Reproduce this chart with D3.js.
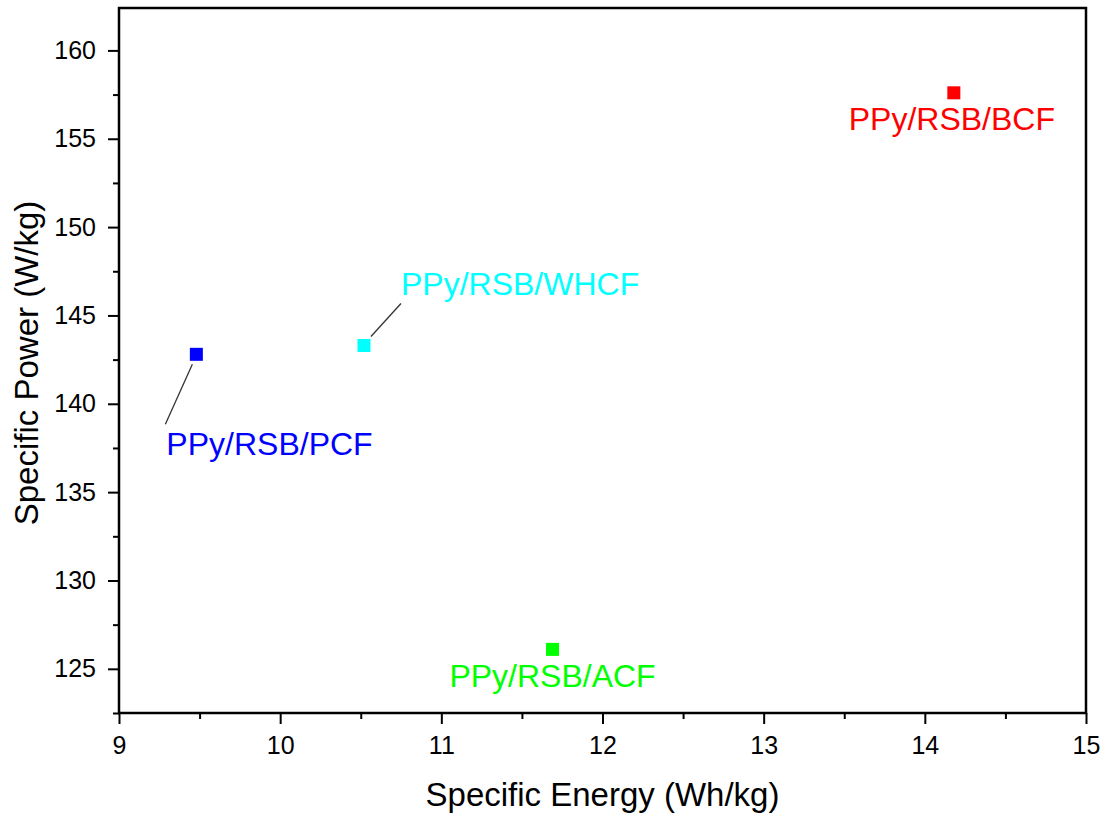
<!DOCTYPE html>
<html>
<head>
<meta charset="utf-8">
<script src="https://cdn.jsdelivr.net/npm/d3@7"></script>
<style>
  body { margin: 0; background: #fff; }
  text { font-family: "Liberation Sans", Arial, sans-serif; }
</style>
</head>
<body>
<div id="chart"></div>
<script>
// data
var names = ["PPy/RSB/PCF", "PPy/RSB/WHCF", "PPy/RSB/ACF", "PPy/RSB/BCF"]
var energy = [9.48, 10.52, 11.69, 14.18]
var power = [142.8, 143.3, 126.1, 157.6]
var colors = ["#0000ff", "#00ffff", "#00ff00", "#ff0000"]
var xTicks = [9, 10, 11, 12, 13, 14, 15]
var yTicks = [125, 130, 135, 140, 145, 150, 155, 160]

// label placement relative to the point (pixels)
var labelPos = [
  {dx: -30, dy: 101, anchor: "start", lead: [-4, 10, -31, 70]},
  {dx: 37, dy: -50, anchor: "start", lead: [7, -9, 37, -42]},
  {dx: 0, dy: 38, anchor: "middle", lead: null},
  {dx: -2, dy: 37, anchor: "middle", lead: null}
]

var W = 1104, H = 813
var margin = {top: 8, right: 18, bottom: 100, left: 119},
    width = W - margin.left - margin.right,
    height = H - margin.top - margin.bottom;

var svg = d3.select("#chart").append("svg")
    .attr("width", W)
    .attr("height", H)
  .append("g")
    .attr("transform", "translate(" + margin.left + "," + margin.top + ")");

var x = d3.scaleLinear().domain([9, 15]).range([0, width]);
var y = d3.scaleLinear().domain([122.5, 162.4]).range([height, 0]);

// minor ticks
var xMinor = d3.range(9.5, 15, 1)
var yMinor = d3.range(122.5, 162.4, 5)

svg.append("g")
  .attr("transform", "translate(0," + height + ")")
  .call(d3.axisBottom(x).tickValues(xMinor).tickSize(6).tickFormat(""))
svg.append("g")
  .call(d3.axisLeft(y).tickValues(yMinor).tickSize(6).tickFormat(""))

var xAxis = svg.append("g")
  .attr("transform", "translate(0," + height + ")")
  .call(d3.axisBottom(x).tickValues(xTicks).tickSize(11).tickPadding(12).tickFormat(d3.format("d")))
var yAxis = svg.append("g")
  .call(d3.axisLeft(y).tickValues(yTicks).tickSize(11).tickPadding(12).tickFormat(d3.format("d")))

svg.selectAll(".domain").remove()
svg.selectAll(".tick line").attr("stroke", "#000").attr("stroke-width", 2)
svg.selectAll(".tick text").attr("font-size", 25).attr("fill", "#000")
  .style("font-family", "'Liberation Sans', Arial, sans-serif")

// frame
svg.append("rect")
  .attr("x", 0).attr("y", 0)
  .attr("width", width).attr("height", height)
  .attr("fill", "none").attr("stroke", "#000").attr("stroke-width", 2.5)

// points
var pts = names.map(function(n, i){ return {name: n, e: energy[i], p: power[i], c: colors[i], l: labelPos[i]} })
var sz = 13

svg.selectAll("line.lead")
  .data(pts.filter(function(d){ return d.l.lead }))
  .enter().append("line")
    .attr("x1", function(d){ return x(d.e) + d.l.lead[0] })
    .attr("y1", function(d){ return y(d.p) + d.l.lead[1] })
    .attr("x2", function(d){ return x(d.e) + d.l.lead[2] })
    .attr("y2", function(d){ return y(d.p) + d.l.lead[3] })
    .attr("stroke", "#333").attr("stroke-width", 1.3)

svg.selectAll("rect.pt")
  .data(pts)
  .enter().append("rect")
    .attr("x", function(d){ return x(d.e) - sz/2 })
    .attr("y", function(d){ return y(d.p) - sz/2 })
    .attr("width", sz).attr("height", sz)
    .attr("fill", function(d){ return d.c })

svg.selectAll("text.lbl")
  .data(pts)
  .enter().append("text")
    .attr("x", function(d){ return x(d.e) + d.l.dx })
    .attr("y", function(d){ return y(d.p) + d.l.dy })
    .attr("text-anchor", function(d){ return d.l.anchor })
    .attr("font-size", 32)
    .attr("fill", function(d){ return d.c })
    .text(function(d){ return d.name })

// axis titles
svg.append("text")
    .attr("text-anchor", "middle")
    .attr("x", width / 2)
    .attr("y", height + 93)
    .attr("font-size", 33)
    .text("Specific Energy (Wh/kg)");

svg.append("text")
    .attr("text-anchor", "middle")
    .attr("transform", "rotate(-90)")
    .attr("x", -355)
    .attr("y", -81)
    .attr("font-size", 33)
    .text("Specific Power (W/kg)");
</script>
</body>
</html>
